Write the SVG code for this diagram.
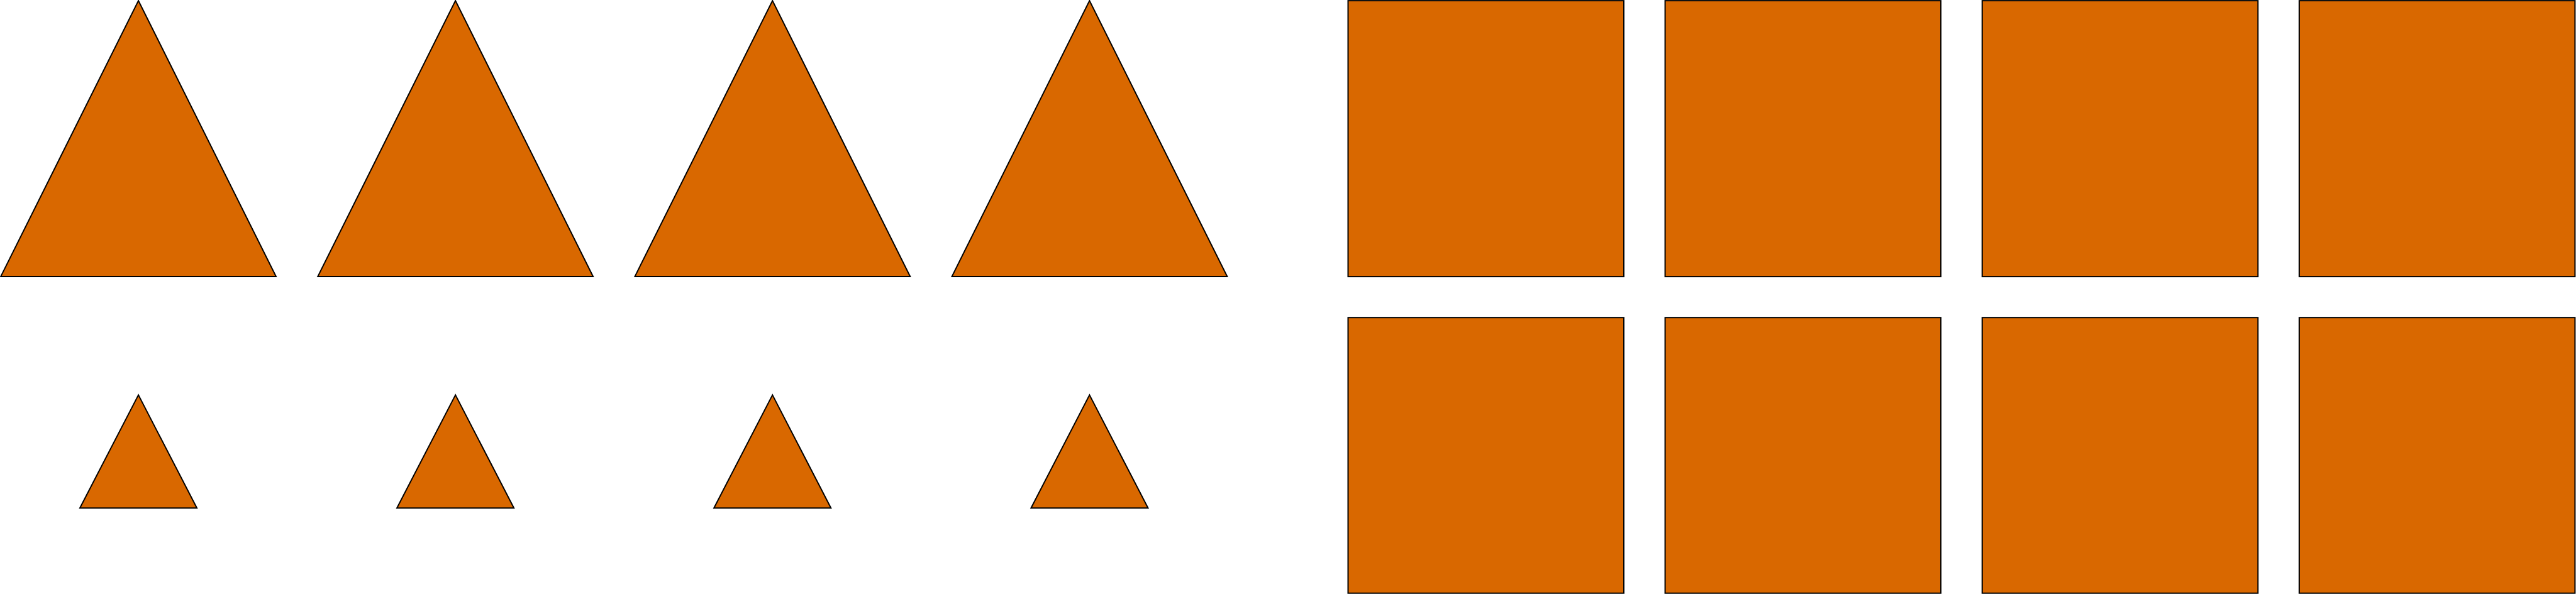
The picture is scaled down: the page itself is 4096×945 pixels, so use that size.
<svg xmlns="http://www.w3.org/2000/svg" width="4096" height="945" viewBox="0 0 4096 945">
<style>
.s{fill:#d96800;stroke:#000;stroke-width:2;stroke-linejoin:miter}
</style>
<rect x="0" y="0" width="4096" height="945" fill="#fff"/>
<g id="tri-large-1"><polygon class="s" points="1.1,440.1 220.1,1.1 439,440.1"/></g>
<g id="tri-large-2"><polygon class="s" points="505.2,440.1 724.2,1.1 943.1,440.1"/></g>
<g id="tri-large-3"><polygon class="s" points="1009.4,440.1 1228.3,1.1 1447.3,440.1"/></g>
<g id="tri-large-4"><polygon class="s" points="1513.5,440.1 1732.4,1.1 1951.4,440.1"/></g>
<g id="tri-small-1"><polygon class="s" points="127,808.2 220.1,628.4 313.1,808.2"/></g>
<g id="tri-small-2"><polygon class="s" points="631.1,808.2 724.2,628.4 817.2,808.2"/></g>
<g id="tri-small-3"><polygon class="s" points="1135.2,808.2 1228.3,628.4 1321.3,808.2"/></g>
<g id="tri-small-4"><polygon class="s" points="1639.4,808.2 1732.4,628.4 1825.5,808.2"/></g>
<g id="sq-1"><rect class="s" x="2143.5" y="1.1" width="438.5" height="439"/></g>
<g id="sq-2"><rect class="s" x="2647.6" y="1.1" width="438.5" height="439"/></g>
<g id="sq-3"><rect class="s" x="3151.8" y="1.1" width="438.5" height="439"/></g>
<g id="sq-4"><rect class="s" x="3655.9" y="1.1" width="438.5" height="439"/></g>
<g id="sq-5"><rect class="s" x="2143.5" y="505.2" width="438.5" height="438.5"/></g>
<g id="sq-6"><rect class="s" x="2647.6" y="505.2" width="438.5" height="438.5"/></g>
<g id="sq-7"><rect class="s" x="3151.8" y="505.2" width="438.5" height="438.5"/></g>
<g id="sq-8"><rect class="s" x="3655.9" y="505.2" width="438.5" height="438.5"/></g>
<g id="connectors"></g>
</svg>
